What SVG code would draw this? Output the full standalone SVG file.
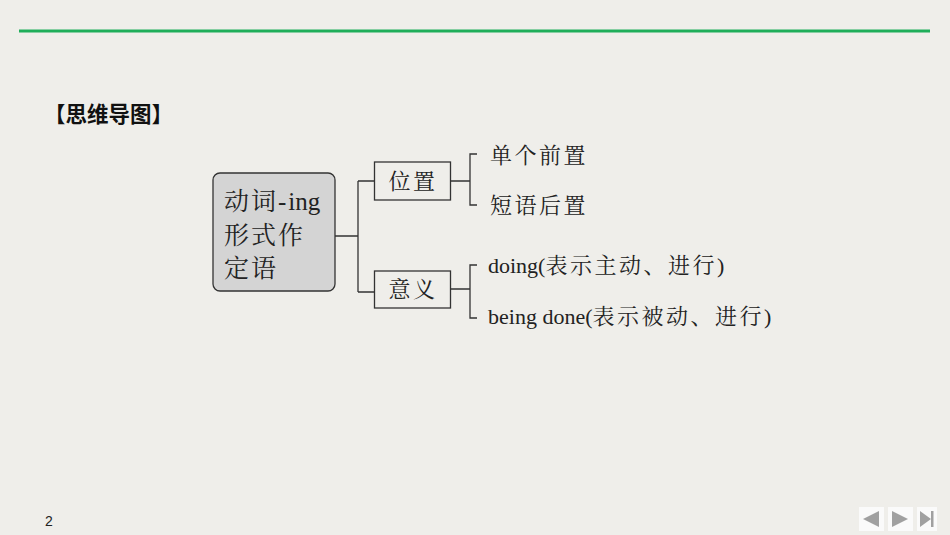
<svg xmlns="http://www.w3.org/2000/svg" width="950" height="535" viewBox="0 0 950 535">
<style>
.ln{stroke:#333;stroke-width:1.3;fill:none}
.bx{fill:none;stroke:#333;stroke-width:1.3}
.t{font-family:"Liberation Serif","Noto Serif CJK SC","Noto Sans CJK SC",serif;fill:#222}
.cj{letter-spacing:2.5px}
.nav{fill:#fafafa}
.tri{fill:#a0a0a0}
</style>
<rect width="950" height="535" fill="#efeeea"/>
<rect x="19" y="29.5" width="911" height="3" fill="#1fae5a"/>
<text x="44" y="122" font-family="'Noto Sans CJK SC',sans-serif" font-size="21.5" font-weight="bold" fill="#111">【思维导图】</text>
<g id="root">
<rect x="213" y="173" width="122" height="118" rx="7" fill="#d4d4d4" stroke="#333" stroke-width="1.3"/>
<text class="t" x="224" y="210" font-size="25"><tspan style="letter-spacing:2px">动词-</tspan>ing</text>
<text class="t" x="224" y="244" font-size="25" style="letter-spacing:2px">形式作</text>
<text class="t" x="224" y="277" font-size="25" style="letter-spacing:2px">定语</text>
</g>
<g id="pos">
<rect class="bx" x="374.5" y="162" width="76" height="38"/>
<text class="t cj" x="413" y="189" font-size="22" text-anchor="middle">位置</text>
</g>
<g id="mean">
<rect class="bx" x="374.5" y="271" width="76" height="37"/>
<text class="t cj" x="413" y="297" font-size="22" text-anchor="middle">意义</text>
</g>
<g id="l1"><text class="t cj" x="490" y="163" font-size="22">单个前置</text></g>
<g id="l2"><text class="t cj" x="490" y="213" font-size="22">短语后置</text></g>
<g id="l3"><text class="t" x="488" y="273" font-size="22">doing(<tspan class="cj">表示主动、进行)</tspan></text></g>
<g id="l4"><text class="t" x="488" y="324" font-size="22">being done(<tspan class="cj">表示被动、进行)</tspan></text></g>
<g id="connectors">
<path class="ln" d="M335 236H358M358 181V292M358 181H374.5M358 292H374.5"/>
<path class="ln" d="M450.5 181H470M477 154H470V205H477"/>
<path class="ln" d="M450.5 289H470M477 265H470V318H477"/>
</g>
<text x="45" y="526" font-family="'Liberation Sans',sans-serif" font-size="14" fill="#222">2</text>
<rect class="nav" x="859" y="507" width="25" height="24"/>
<polygon class="tri" points="863,519 879,511 879,527"/>
<rect class="nav" x="888" y="507" width="25" height="24"/>
<polygon class="tri" points="892,511 908,519 892,527"/>
<rect class="nav" x="917" y="507" width="20" height="24"/>
<polygon class="tri" points="920,511 931,519 920,527"/>
<rect x="931" y="511" width="2.5" height="16" fill="#a0a0a0"/>
</svg>
